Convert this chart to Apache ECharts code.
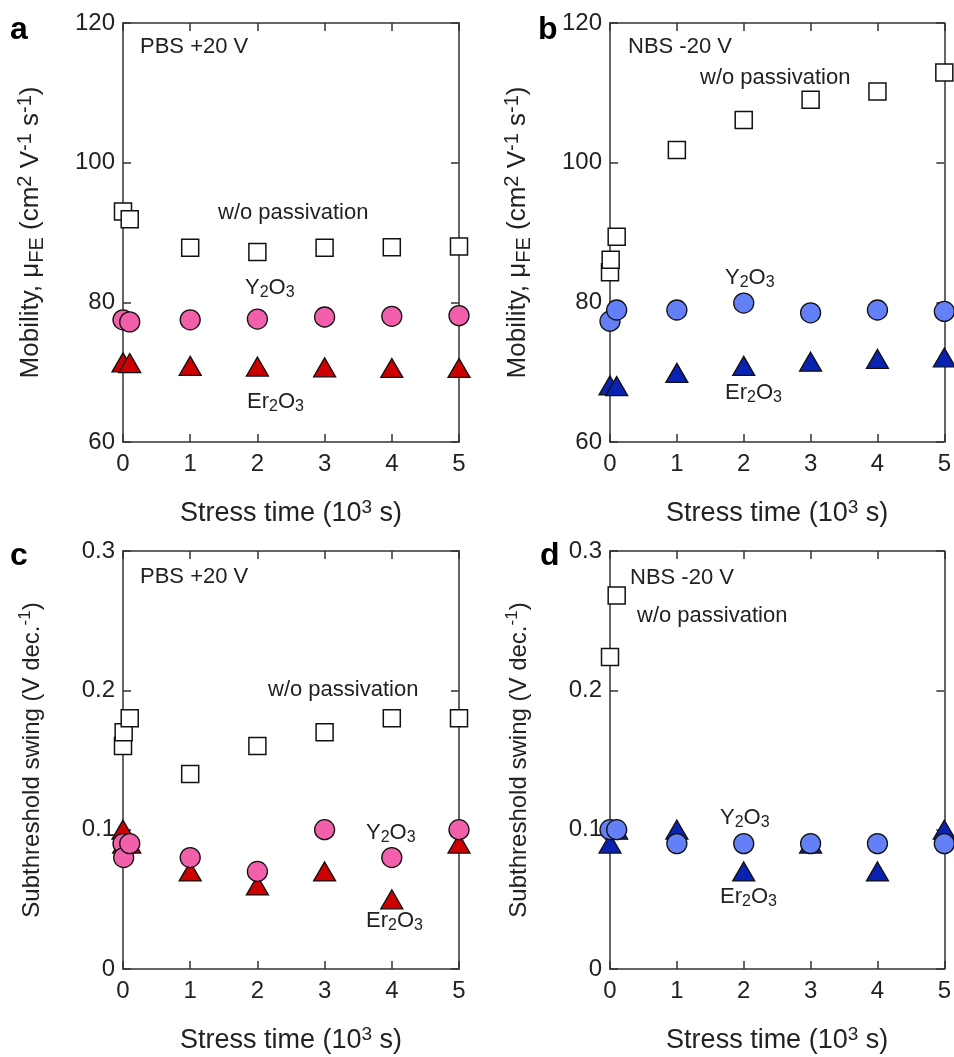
<!DOCTYPE html>
<html>
<head>
<meta charset="utf-8">
<script src="https://cdn.jsdelivr.net/npm/echarts@6.0.0/dist/echarts.min.js"></script>
<style>
  html, body { margin: 0; padding: 0; background: #ffffff; }
  #chart { width: 954px; height: 1057px; }
</style>
</head>
<body>
<div id="chart"></div>
<script>
// Axis ticks
const timeTicks = [0, 1, 2, 3, 4, 5];          // stress time, 10^3 s
const mobilityTicks = [60, 80, 100, 120];      // cm2 V-1 s-1
const swingTicks = [0, 0.1, 0.2, 0.3];         // V dec.-1

// (a) mobility under PBS +20 V  — [stress time (10^3 s), mobility]
const mobPbsBare = [[0, 93.0], [0.1, 91.9], [1, 87.8], [2, 87.2], [3, 87.8], [4, 87.9], [5, 88.0]];
const mobPbsY2O3 = [[0, 77.5], [0.1, 77.2], [1, 77.5], [2, 77.6], [3, 77.9], [4, 78.0], [5, 78.1]];
const mobPbsEr2O3 = [[0, 71.4], [0.1, 71.3], [1, 70.9], [2, 70.8], [3, 70.7], [4, 70.6], [5, 70.6]];

// (b) mobility under NBS -20 V
const mobNbsBare = [[0, 84.3], [0.01, 86.1], [0.1, 89.4], [1, 101.8], [2, 106.1], [3, 109.0], [4, 110.2], [5, 112.9]];
const mobNbsY2O3 = [[0, 77.3], [0.1, 78.9], [1, 78.9], [2, 79.9], [3, 78.5], [4, 78.9], [5, 78.7]];
const mobNbsEr2O3 = [[0, 68.1], [0.1, 68.0], [1, 69.9], [2, 70.9], [3, 71.5], [4, 71.9], [5, 72.1]];

// (c) subthreshold swing under PBS +20 V
const ssPbsBare = [[0, 0.16], [0.01, 0.17], [0.1, 0.18], [1, 0.14], [2, 0.16], [3, 0.17], [4, 0.18], [5, 0.18]];
const ssPbsY2O3 = [[0, 0.09], [0.01, 0.08], [0.1, 0.09], [1, 0.08], [2, 0.07], [3, 0.10], [4, 0.08], [5, 0.10]];
const ssPbsEr2O3 = [[0, 0.10], [0.01, 0.09], [0.1, 0.09], [1, 0.07], [2, 0.06], [3, 0.07], [4, 0.05], [5, 0.09]];

// (d) subthreshold swing under NBS -20 V
const ssNbsBare = [[0, 0.224], [0.1, 0.268]];
const ssNbsY2O3 = [[0, 0.10], [0.1, 0.10], [1, 0.09], [2, 0.09], [3, 0.09], [4, 0.09], [5, 0.09]];
const ssNbsEr2O3 = [[0, 0.09], [0.1, 0.10], [1, 0.10], [2, 0.07], [3, 0.09], [4, 0.07], [5, 0.10]];

const FONT = 'Liberation Sans, Arial, Helvetica, sans-serif';
const INK = '#222222';
const AXIS = '#333333';

const pink = '#F25FAA', red = '#CC0000';
const lightBlue = '#6480F6', darkBlue = '#0A22B2';

function labelRich(main, small, lh) {
  return {
    t: { fontSize: main, lineHeight: lh, color: INK, fontFamily: FONT },
    sup: { fontSize: small, lineHeight: small - 2, verticalAlign: 'top', color: INK, fontFamily: FONT },
    sub: { fontSize: small, lineHeight: small - 2, verticalAlign: 'bottom', color: INK, fontFamily: FONT }
  };
}
const xRich = labelRich(27, 19, 32);
const mobRich = labelRich(26, 20, 32);
const ssRich = labelRich(24, 17, 30);

const xName = '{t|Stress time (10}{sup|3}{t| s)}';
const mobName = '{t|Mobility, μ}{sub|FE}{t| (cm}{sup|2}{t| V}{sup|-1}{t| s}{sup|-1}{t|)}';
const ssName = '{t|Subthreshold swing (V dec.}{sup|-1}{t|)}';

const panels = [
  { rect: { left: 123, top: 23, width: 336, height: 419 }, yTicks: mobilityTicks, yName: mobName, yRich: mobRich,
    bare: mobPbsBare, y2o3: mobPbsY2O3, er2o3: mobPbsEr2O3, cOpen: pink, cTri: red },
  { rect: { left: 610, top: 23, width: 336, height: 419 }, yTicks: mobilityTicks, yName: mobName, yRich: mobRich,
    bare: mobNbsBare, y2o3: mobNbsY2O3, er2o3: mobNbsEr2O3, cOpen: lightBlue, cTri: darkBlue },
  { rect: { left: 123, top: 551, width: 336, height: 418 }, yTicks: swingTicks, yName: ssName, yRich: ssRich,
    bare: ssPbsBare, y2o3: ssPbsY2O3, er2o3: ssPbsEr2O3, cOpen: pink, cTri: red },
  { rect: { left: 610, top: 551, width: 336, height: 418 }, yTicks: swingTicks, yName: ssName, yRich: ssRich,
    bare: ssNbsBare, y2o3: ssNbsY2O3, er2o3: ssNbsEr2O3, cOpen: lightBlue, cTri: darkBlue }
];

const grids = [], xAxes = [], yAxes = [], series = [];
const lineStyle = { color: AXIS, width: 1.5 };
const tickStyle = { show: true, inside: true, length: 8, lineStyle: { color: AXIS, width: 1.5 } };
const fmtTick = v => String(Math.round(v * 1000) / 1000);

panels.forEach((p, i) => {
  grids.push(Object.assign({ containLabel: false }, p.rect));
  const xRange = { min: timeTicks[0], max: timeTicks[timeTicks.length - 1], interval: timeTicks[1] - timeTicks[0] };
  const yRange = { min: p.yTicks[0], max: p.yTicks[p.yTicks.length - 1], interval: p.yTicks[1] - p.yTicks[0] };

  xAxes.push(Object.assign({
    type: 'value', gridIndex: i, position: 'bottom',
    axisLine: { show: true, onZero: false, lineStyle }, axisTick: tickStyle, splitLine: { show: false },
    axisLabel: { show: true, margin: 10, fontSize: 24, color: INK, fontFamily: FONT, formatter: fmtTick },
    name: xName, nameLocation: 'middle', nameGap: 56,
    nameTextStyle: { rich: xRich }
  }, xRange));
  xAxes.push(Object.assign({
    type: 'value', gridIndex: i, position: 'top',
    axisLine: { show: true, onZero: false, lineStyle }, axisTick: tickStyle, splitLine: { show: false },
    axisLabel: { show: false }
  }, xRange));

  yAxes.push(Object.assign({
    type: 'value', gridIndex: i, position: 'left',
    axisLine: { show: true, onZero: false, lineStyle }, axisTick: tickStyle, splitLine: { show: false },
    axisLabel: { show: true, margin: 8, fontSize: 24, color: INK, fontFamily: FONT, formatter: fmtTick },
    name: p.yName, nameLocation: 'middle', nameRotate: 90, nameGap: 76,
    nameTextStyle: { rich: p.yRich }
  }, yRange));
  yAxes.push(Object.assign({
    type: 'value', gridIndex: i, position: 'right',
    axisLine: { show: true, onZero: false, lineStyle }, axisTick: tickStyle, splitLine: { show: false },
    axisLabel: { show: false }
  }, yRange));

  const base = { type: 'scatter', xAxisIndex: 2 * i, yAxisIndex: 2 * i, clip: false, silent: true };
  series.push(Object.assign({}, base, {
    name: 'w/o passivation', data: p.bare, symbol: 'rect', symbolSize: 17,
    itemStyle: { color: '#ffffff', borderColor: '#111111', borderWidth: 1.5, opacity: 1 }
  }));
  series.push(Object.assign({}, base, {
    name: 'Er2O3', data: p.er2o3, symbol: 'triangle', symbolSize: [22, 19],
    itemStyle: { color: p.cTri, borderColor: '#111111', borderWidth: 1.3, opacity: 1 }
  }));
  series.push(Object.assign({}, base, {
    name: 'Y2O3', data: p.y2o3, symbol: 'circle', symbolSize: 20,
    itemStyle: { color: p.cOpen, borderColor: '#111111', borderWidth: 1.3, opacity: 1 }
  }));
});

// Annotations
const noteRich = {
  n: { fontSize: 22, lineHeight: 26, color: INK, fontFamily: FONT },
  s: { fontSize: 16, lineHeight: 12, verticalAlign: 'bottom', color: INK, fontFamily: FONT }
};
function note(x, y, text) {
  return {
    type: 'text', x: x, y: y, silent: true,
    style: {
      text: text, rich: noteRich, fontSize: 22, fontFamily: FONT, fill: INK,
      verticalAlign: 'middle', align: 'left'
    }
  };
}
function letter(x, y, t) {
  return {
    type: 'text', x: x, y: y, silent: true,
    style: { text: t, fontSize: 32, fontWeight: 'bold', fontFamily: FONT, fill: '#000000', verticalAlign: 'middle', align: 'left' }
  };
}
const Y2O3 = '{n|Y}{s|2}{n|O}{s|3}';
const Er2O3 = '{n|Er}{s|2}{n|O}{s|3}';
const wo = '{n|w/o passivation}';

const graphics = [
  letter(10, 30, 'a'), letter(538, 30, 'b'), letter(10, 556, 'c'), letter(540, 556, 'd'),
  note(140, 47, '{n|PBS +20 V}'), note(218, 213, wo), note(245, 288, Y2O3), note(247, 402, Er2O3),
  note(628, 47, '{n|NBS -20 V}'), note(700, 78, wo), note(725, 278, Y2O3), note(725, 393, Er2O3),
  note(140, 577, '{n|PBS +20 V}'), note(268, 690, wo), note(366, 833, Y2O3), note(366, 921, Er2O3),
  note(630, 578, '{n|NBS -20 V}'), note(637, 616, wo), note(720, 818, Y2O3), note(720, 897, Er2O3)
];

const chart = echarts.init(document.getElementById('chart'), null, { renderer: 'canvas' });
chart.setOption({
  backgroundColor: '#ffffff',
  animation: false,
  textStyle: { fontFamily: FONT },
  grid: grids,
  xAxis: xAxes,
  yAxis: yAxes,
  series: series,
  graphic: graphics
});
</script>
</body>
</html>
